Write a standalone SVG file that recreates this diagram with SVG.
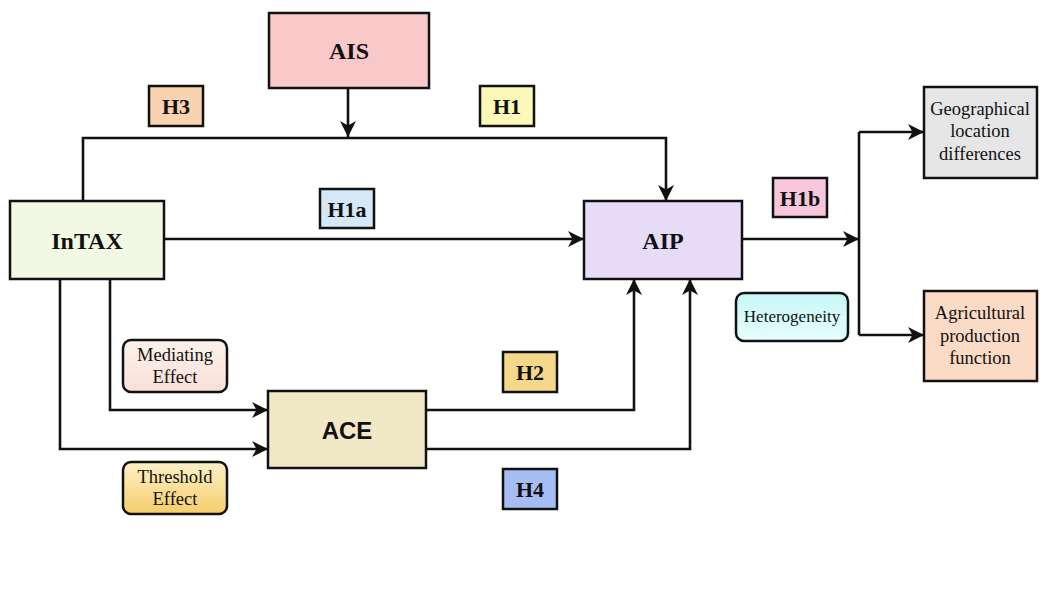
<svg xmlns="http://www.w3.org/2000/svg" width="1046" height="589" viewBox="0 0 1046 589">
<style>
.box{stroke:#111;stroke-width:2.5}
.conn{fill:none;stroke:#111;stroke-width:2.6}
.big{font-family:"Liberation Serif","Times New Roman",serif;font-weight:bold;font-size:24px;fill:#111;text-anchor:middle;dominant-baseline:central}
.hl{font-family:"Liberation Serif","Times New Roman",serif;font-weight:bold;font-size:22px;fill:#111;text-anchor:middle;dominant-baseline:central}
.sm{font-family:"Liberation Serif","Times New Roman",serif;font-size:18.5px;fill:#111;text-anchor:middle;dominant-baseline:central}
.sans{font-family:"Liberation Sans",Arial,sans-serif;font-weight:bold;font-size:24px;fill:#111;text-anchor:middle;dominant-baseline:central}
</style>
<defs>
<marker id="arr" markerUnits="userSpaceOnUse" markerWidth="18" markerHeight="18" viewBox="0 0 18 18" refX="16" refY="9" orient="auto">
<path d="M0,1 L16,9 L0,17 L4.5,9 z" fill="#111"/>
</marker>
<linearGradient id="thr" x1="0" y1="0" x2="0" y2="1">
<stop offset="0" stop-color="#fdf1c8"/>
<stop offset="1" stop-color="#f5cd6a"/>
</linearGradient>
<linearGradient id="het" x1="0" y1="0" x2="0" y2="1">
<stop offset="0" stop-color="#c8f7f7"/>
<stop offset="1" stop-color="#e6fdfd"/>
</linearGradient>
<linearGradient id="med" x1="0" y1="0" x2="0" y2="1">
<stop offset="0" stop-color="#fdf1ec"/>
<stop offset="1" stop-color="#f8e0d6"/>
</linearGradient>
</defs>
<rect width="1046" height="589" fill="#ffffff"/>
<g id="connectors">
<path class="conn" d="M348,88 V137" marker-end="url(#arr)"/>
<path class="conn" d="M83,201 V138 H666 V201" marker-end="url(#arr)"/>
<path class="conn" d="M164,239 H584" marker-end="url(#arr)"/>
<path class="conn" d="M742,239 H859" marker-end="url(#arr)"/>
<path class="conn" d="M859,132 V335"/>
<path class="conn" d="M859,132 H924" marker-end="url(#arr)"/>
<path class="conn" d="M859,335 H924" marker-end="url(#arr)"/>
<path class="conn" d="M110,279 V410 H268" marker-end="url(#arr)"/>
<path class="conn" d="M60,279 V449 H268" marker-end="url(#arr)"/>
<path class="conn" d="M426,410 H634 V279" marker-end="url(#arr)"/>
<path class="conn" d="M426,449 H690 V279" marker-end="url(#arr)"/>
</g>
<g id="AIS"><rect class="box" x="269" y="13" width="160" height="75" fill="#f9c9c9"/><text class="big" x="349" y="51">AIS</text></g>
<g id="InTAX"><rect class="box" x="10" y="201" width="154" height="78" fill="#f1f9e4"/><text class="big" x="87" y="241">InTAX</text></g>
<g id="AIP"><rect class="box" x="584" y="201" width="158" height="78" fill="#e6dcf8"/><text class="big" x="663" y="241">AIP</text></g>
<g id="ACE"><rect class="box" x="268" y="391" width="158" height="77" fill="#f1e8c6"/><text class="sans" x="347" y="430">ACE</text></g>
<g id="H3"><rect class="box" x="149" y="86" width="54" height="40" fill="#f9d3b0"/><text class="hl" x="176" y="106">H3</text></g>
<g id="H1"><rect class="box" x="480" y="86" width="54" height="40" fill="#fbf8b8"/><text class="hl" x="507" y="106">H1</text></g>
<g id="H1a"><rect class="box" x="320" y="189" width="54" height="39" fill="#d5e8f7"/><text class="hl" x="347" y="209">H1a</text></g>
<g id="H1b"><rect class="box" x="773" y="178" width="54" height="39" fill="#f8c6dc"/><text class="hl" x="800" y="198">H1b</text></g>
<g id="H2"><rect class="box" x="503" y="352" width="54" height="40" fill="#f5d78a"/><text class="hl" x="530" y="372">H2</text></g>
<g id="H4"><rect class="box" x="503" y="469" width="54" height="40" fill="#a6bdf4"/><text class="hl" x="530" y="489">H4</text></g>
<g id="Geo"><rect class="box" x="924" y="87" width="113" height="91" fill="#e6e6e6"/>
<text class="sm" x="980" y="109">Geographical</text><text class="sm" x="980" y="131">location</text><text class="sm" x="980" y="154">differences</text></g>
<g id="Agri"><rect class="box" x="924" y="291" width="113" height="90" fill="#fbdac6"/>
<text class="sm" x="980" y="313">Agricultural</text><text class="sm" x="980" y="336">production</text><text class="sm" x="980" y="358">function</text></g>
<g id="Hetero"><rect class="box" x="736" y="293" width="112" height="48" rx="8" fill="url(#het)"/><text class="sm" x="792" y="316" style="font-size:17px">Heterogeneity</text></g>
<g id="Mediating"><rect class="box" x="123" y="340" width="104" height="52" rx="8" fill="url(#med)"/>
<text class="sm" x="175" y="355">Mediating</text><text class="sm" x="175" y="377">Effect</text></g>
<g id="Threshold"><rect class="box" x="123" y="462" width="104" height="52" rx="8" fill="url(#thr)"/>
<text class="sm" x="175" y="477">Threshold</text><text class="sm" x="175" y="499">Effect</text></g>
</svg>
